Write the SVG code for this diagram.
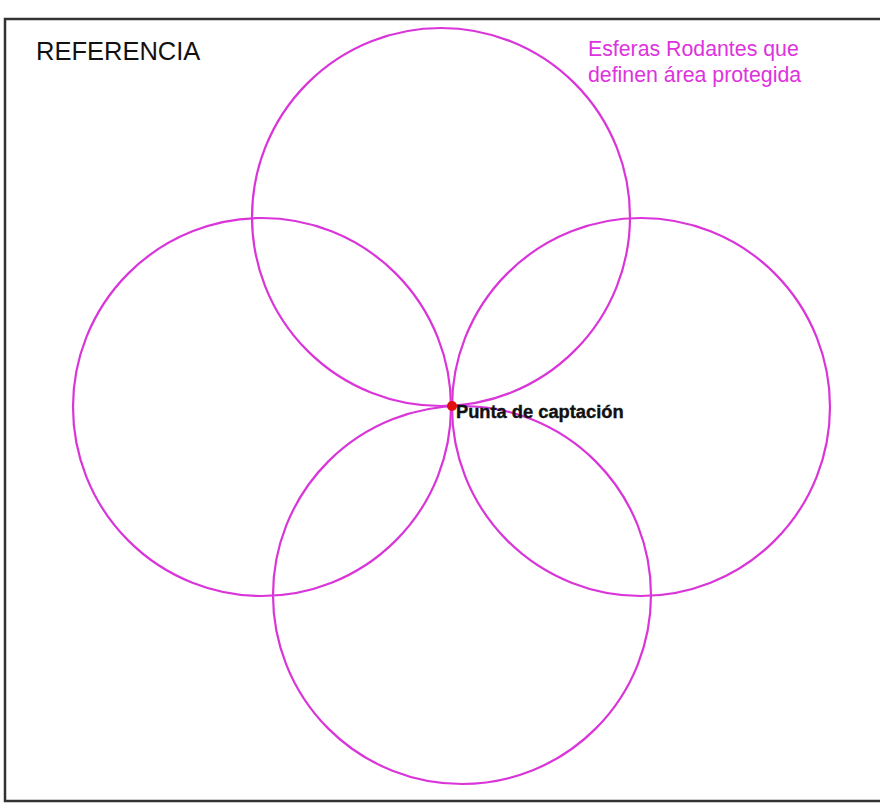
<svg xmlns="http://www.w3.org/2000/svg" width="880" height="803" viewBox="0 0 880 803">
<style>
.sphere{fill:none;stroke:#d935d9;stroke-width:2.2}
.lbl{font-family:"Liberation Sans",Arial,sans-serif}
</style>
<rect x="0" y="0" width="880" height="803" fill="#fff"/>
<rect id="frame" x="5" y="19" width="890" height="782" fill="none" stroke="#333" stroke-width="2.5"/>
<g id="connectors"></g>
<g id="sphere-top"><circle class="sphere" cx="441" cy="217" r="189"/></g>
<g id="sphere-left"><circle class="sphere" cx="262" cy="407" r="189"/></g>
<g id="sphere-right"><circle class="sphere" cx="641" cy="407" r="189"/></g>
<g id="sphere-bottom"><circle class="sphere" cx="462" cy="595" r="189"/></g>
<g id="title"><text class="lbl" x="36" y="60" font-size="25.5" fill="#111">REFERENCIA</text></g>
<g id="legend"><text class="lbl" x="588" y="56" font-size="21.3" fill="#dd33dd">Esferas Rodantes que</text><text class="lbl" x="588" y="82" font-size="21.3" fill="#dd33dd">definen área protegida</text></g>
<g id="tip"><circle cx="452" cy="406" r="5" fill="#e01010"/><text class="lbl" x="456" y="418" font-size="18.3" font-weight="bold" fill="#111" stroke="#111" stroke-width="0.4">Punta de captación</text></g>
</svg>
